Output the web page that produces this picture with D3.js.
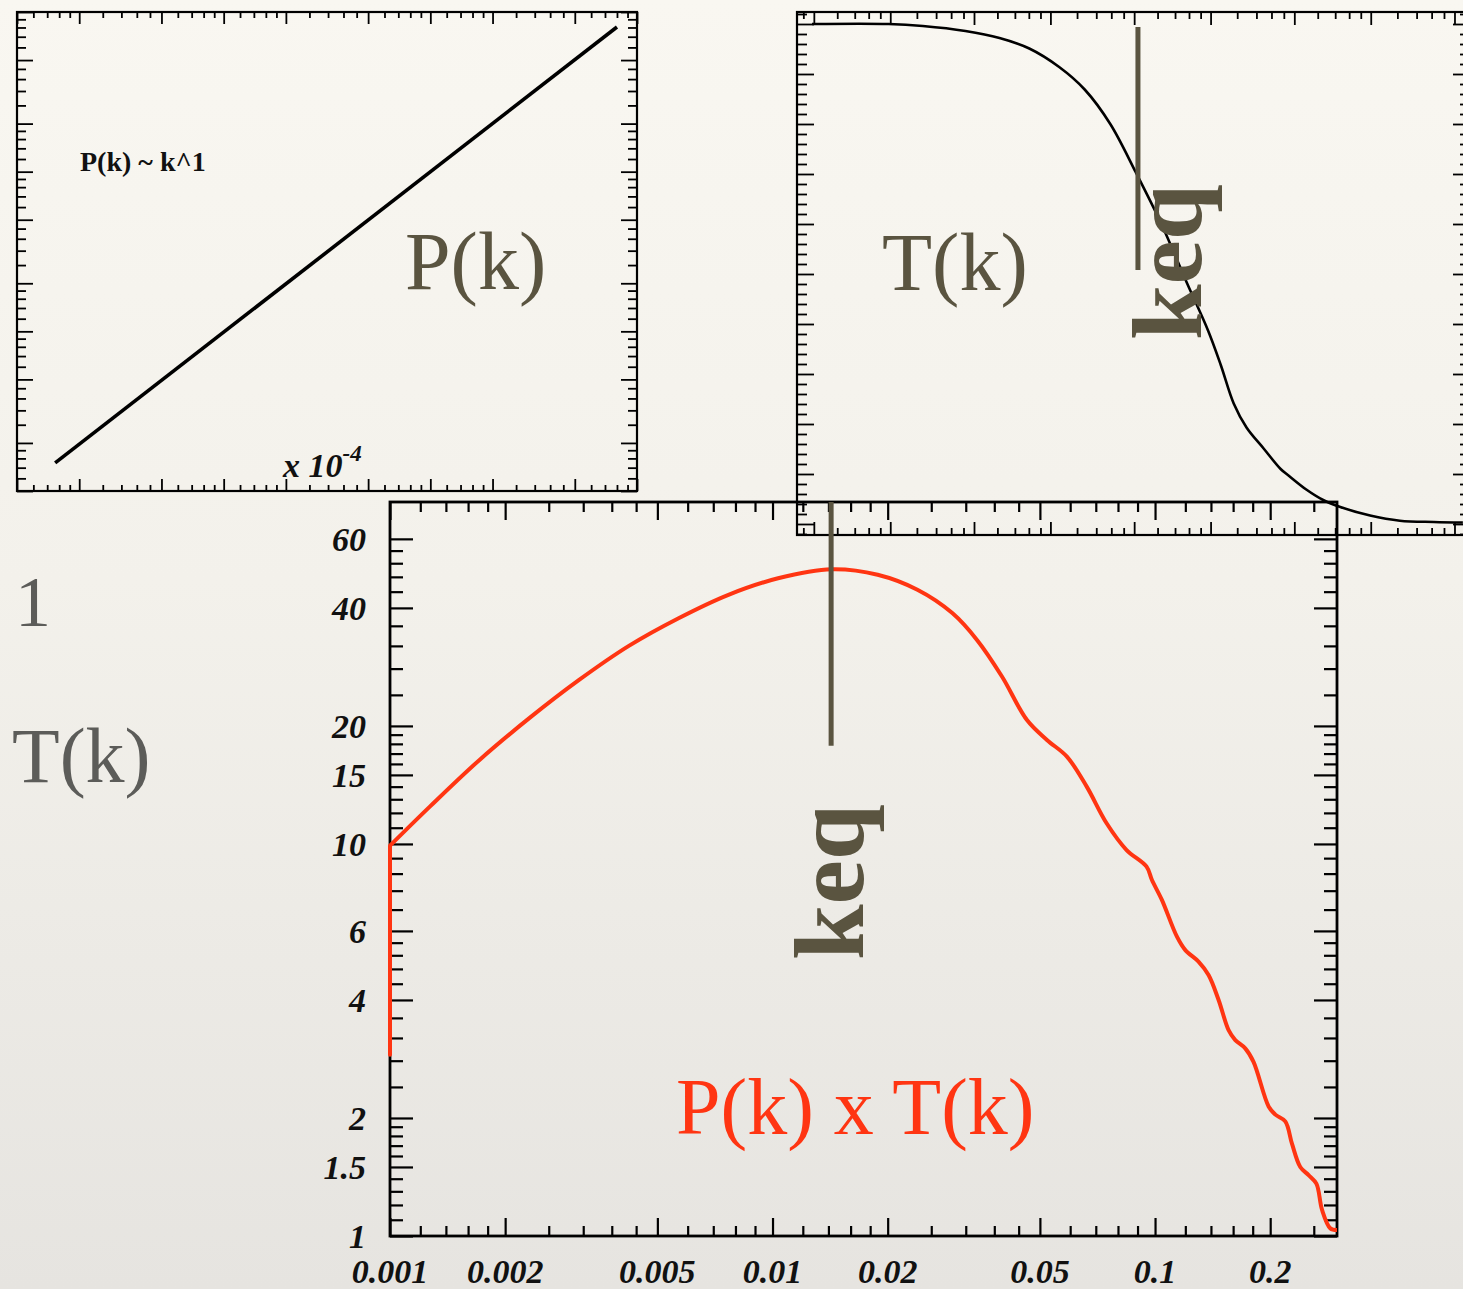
<!DOCTYPE html>
<html><head><meta charset="utf-8">
<script src="https://cdn.jsdelivr.net/npm/d3@7"></script>
<style>html,body{margin:0;padding:0;background:#f0eee9;} svg{display:block;}</style>
</head><body>
<script>
// ---------- DATA ----------
// top-left panel: P(k) ~ k^1
const pkK = [1.53e-4, 0.08];
const pkP = [1.5, 805];
const pkXMajors = [1e-4, 2e-4, 5e-4, 1e-3, 2e-3, 5e-3, 1e-2, 2e-2, 5e-2, 1e-1];
const pkYMajors = [1, 2, 5, 10, 20, 50, 100, 200, 500, 1000];

// top-right panel: transfer function T(k)
const tkK = [9.74e-5, 2.93e-4, 4.79e-4, 8.84e-4, 1.443e-3, 2.214e-3, 3.403e-3, 4.909e-3, 7.094e-3, 0.01025, 0.01479, 0.02136, 0.02901, 0.03482, 0.04184, 0.05029, 0.06432, 0.08214, 0.0928, 0.1187, 0.1515, 0.1937, 0.2973, 0.4562, 0.7435, 1.128];
const tkT = [1.0, 1.0, 0.996, 0.986, 0.972, 0.951, 0.914, 0.869, 0.800, 0.703, 0.600, 0.482, 0.386, 0.317, 0.241, 0.193, 0.151, 0.110, 0.096, 0.069, 0.048, 0.034, 0.017, 0.0066, 0.004, 0.003];
const tkXMajors = [3e-5, 1e-4, 3e-4, 1e-3, 3e-3, 1e-2, 3e-2, 0.1, 0.3, 1, 3];
const tkYMajors = [-0.1, 0, 0.1, 0.2, 0.3, 0.4, 0.5, 0.6, 0.7, 0.8, 0.9, 1.0, 1.1];
const keqTop = 0.01056, keqTopSpan = [0.994, 0.508];

// bottom panel: P(k) x T(k)
const ptK = [0.001, 0.001, 0.001271, 0.001714, 0.002313, 0.003121, 0.004211, 0.005681, 0.007669, 0.01034, 0.01429, 0.01883, 0.02392, 0.02951, 0.03428, 0.03983, 0.04626, 0.05216, 0.05883, 0.06628, 0.07471, 0.08425, 0.09502, 0.09815, 0.1042, 0.1141, 0.1200, 0.1299, 0.1380, 0.1466, 0.1557, 0.1621, 0.1721, 0.1809, 0.1981, 0.2063, 0.2190, 0.2280, 0.2397, 0.2520, 0.2641, 0.2733, 0.2872, 0.2990];
const ptV = [2.9, 9.9, 12.45, 16.38, 20.93, 26.2, 32.0, 37.65, 43.2, 47.6, 50.2, 48.6, 44.5, 38.8, 33.1, 26.7, 20.7, 18.42, 16.70, 14.0, 11.29, 9.65, 8.75, 8.09, 7.20, 5.80, 5.36, 5.01, 4.63, 4.00, 3.35, 3.16, 3.01, 2.78, 2.14, 2.04, 1.96, 1.72, 1.50, 1.43, 1.36, 1.165, 1.046, 1.036];
const xTickValues = [0.001, 0.002, 0.005, 0.01, 0.02, 0.05, 0.1, 0.2, 0.5];
const xTickLabels = ["0.001", "0.002", "0.005", "0.01", "0.02", "0.05", "0.1", "0.2", ""];
const yTickValues = [1, 1.5, 2, 4, 6, 10, 15, 20, 40, 60];
const yTickLabels = ["1", "1.5", "2", "4", "6", "10", "15", "20", "40", "60"];
const keqBottom = 0.01423, keqBottomSpan = [74.5, 17.8];

// ---------- LAYOUT ----------
const W = 1463, H = 1289;
const OLIVE = "#5a5440", GRAY = "#5c5c59", RED = "#ff3512";
const svg = d3.select("body").append("svg").attr("width", W).attr("height", H)
  .style("font-family", "'Liberation Serif', 'Times New Roman', serif");
const defs = svg.append("defs");
const grad = defs.append("linearGradient").attr("id", "bg").attr("x1", 0).attr("y1", 0).attr("x2", 0).attr("y2", 1);
grad.append("stop").attr("offset", "0%").attr("stop-color", "#f9f7f1");
grad.append("stop").attr("offset", "45%").attr("stop-color", "#f3f1eb");
grad.append("stop").attr("offset", "100%").attr("stop-color", "#e6e4e0");
svg.append("rect").attr("width", W).attr("height", H).attr("fill", "url(#bg)");

function minors(majors, domain) {
  const out = [];
  const lo = Math.min(...domain), hi = Math.max(...domain);
  for (let i = 0; i < majors.length - 1; i++) {
    const a = majors[i], b = majors[i + 1];
    for (let j = 1; j < 5; j++) {
      const v = a + (b - a) * j / 5;
      if (v > lo && v < hi) out.push(v);
    }
  }
  return out;
}
function inDom(vals, domain) {
  const lo = Math.min(...domain), hi = Math.max(...domain);
  return vals.filter(v => v >= lo - 1e-12 && v <= hi + 1e-12);
}

function frame(g, x, y, o) {
  const [x0, x1] = x.range(), [yb, yt] = y.range();
  const xMaj = inDom(o.xMaj, x.domain()), xMin = minors(o.xMaj, x.domain());
  const yMaj = inDom(o.yMaj, y.domain()), yMin = minors(o.yMaj, y.domain());
  const add = (axis, tx, ty) => g.append("g").attr("transform", `translate(${tx},${ty})`).call(axis)
    .call(s => { s.select(".domain").remove(); s.selectAll("text").remove();
      s.selectAll("line").attr("stroke", "#000").attr("stroke-width", o.tw); });
  add(d3.axisTop(x).tickValues(xMaj).tickSize(o.xMajLen).tickFormat(""), 0, yb);
  add(d3.axisTop(x).tickValues(xMin).tickSize(o.xMinLen).tickFormat(""), 0, yb);
  add(d3.axisBottom(x).tickValues(xMaj).tickSize(o.xMajLen).tickFormat(""), 0, yt);
  add(d3.axisBottom(x).tickValues(xMin).tickSize(o.xMinLen).tickFormat(""), 0, yt);
  add(d3.axisRight(y).tickValues(yMaj).tickSize(o.yMajLen).tickFormat(""), x0, 0);
  add(d3.axisRight(y).tickValues(yMin).tickSize(o.yMinLen).tickFormat(""), x0, 0);
  add(d3.axisLeft(y).tickValues(yMaj).tickSize(o.yMajLen).tickFormat(""), x1, 0);
  add(d3.axisLeft(y).tickValues(yMin).tickSize(o.yMinLen).tickFormat(""), x1, 0);
  g.append("rect").attr("x", x0).attr("y", yt).attr("width", x1 - x0).attr("height", yb - yt)
    .attr("fill", "none").attr("stroke", "#000").attr("stroke-width", o.sw);
}

// ---------- TOP-LEFT PANEL ----------
const xA = d3.scaleLog().domain([1e-4, 1e-1]).range([17, 637]);
const yA = d3.scaleLog().domain([1, 1000]).range([491, 12]);
const gA = svg.append("g");
frame(gA, xA, yA, { xMaj: pkXMajors, yMaj: pkYMajors, xMajLen: 12, xMinLen: 6, yMajLen: 16, yMinLen: 9, sw: 2.2, tw: 1.8 });
gA.append("path").datum(pkK.map((k, i) => [k, pkP[i]]))
  .attr("d", d3.line().x(d => xA(d[0])).y(d => yA(d[1])))
  .attr("fill", "none").attr("stroke", "#000").attr("stroke-width", 3.6);
gA.append("text").attr("x", 80).attr("y", 171).attr("font-weight", "bold").attr("font-size", 28)
  .attr("fill", "#111").text("P(k) ~ k^1");
gA.append("text").attr("x", 405).attr("y", 289).attr("font-size", 82).attr("fill", OLIVE).text("P(k)");
const xl = gA.append("text").attr("x", 283).attr("y", 477).attr("font-weight", "bold").attr("font-style", "italic")
  .attr("font-size", 34).attr("fill", "#111");
xl.append("tspan").text("x 10");
xl.append("tspan").attr("font-size", 23).attr("dy", -16).text("-4");

// ---------- TOP-RIGHT PANEL ----------
const xB = d3.scaleLog().domain([7.85e-5, 1.25]).range([797, 1470]);
const yB = d3.scaleLinear().domain([-0.022, 1.024]).range([535, 12]);
const gB = svg.append("g");
frame(gB, xB, yB, { xMaj: tkXMajors, yMaj: tkYMajors, xMajLen: 13, xMinLen: 7, yMajLen: 17, yMinLen: 10, sw: 2.2, tw: 1.8 });
gB.append("path").datum(tkK.map((k, i) => [k, tkT[i]]))
  .attr("d", d3.line().curve(d3.curveCatmullRom.alpha(0.5)).x(d => xB(d[0])).y(d => yB(d[1])))
  .attr("fill", "none").attr("stroke", "#000").attr("stroke-width", 2.6);
gB.append("text").attr("x", 882).attr("y", 290).attr("font-size", 82).attr("fill", OLIVE).text("T(k)");
gB.append("line").attr("x1", xB(keqTop)).attr("x2", xB(keqTop))
  .attr("y1", yB(keqTopSpan[0])).attr("y2", yB(keqTopSpan[1]))
  .attr("stroke", OLIVE).attr("stroke-width", 5);
gB.append("text").attr("transform", "translate(1201,340) rotate(-90)")
  .attr("font-weight", "bold").attr("font-size", 100).attr("fill", OLIVE).text("keq");

// ---------- LEFT SLIDE TEXT ----------
svg.append("text").attr("x", 15).attr("y", 626).attr("font-size", 72).attr("fill", GRAY).text("1");
svg.append("text").attr("x", 12).attr("y", 782).attr("font-size", 78).attr("fill", GRAY).text("T(k)");

// ---------- BOTTOM PANEL ----------
const xC = d3.scaleLog().domain([0.001, 0.299]).range([390, 1337]);
const yC = d3.scaleLog().domain([1, 74.5]).range([1236, 502]);
const gC = svg.append("g");
frame(gC, xC, yC, { xMaj: xTickValues, yMaj: yTickValues, xMajLen: 18, xMinLen: 10, yMajLen: 23, yMinLen: 13, sw: 2.8, tw: 2.2 });
gC.append("g").selectAll("text").data(xTickValues.filter(v => v <= 0.299)).join("text")
  .attr("x", d => xC(d)).attr("y", 1283).attr("text-anchor", "middle")
  .attr("font-weight", "bold").attr("font-style", "italic").attr("font-size", 34).attr("fill", "#111")
  .text((d, i) => xTickLabels[i]);
gC.append("g").selectAll("text").data(yTickValues).join("text")
  .attr("x", 366).attr("y", d => yC(d) + 12).attr("text-anchor", "end")
  .attr("font-weight", "bold").attr("font-style", "italic").attr("font-size", 34).attr("fill", "#111")
  .text((d, i) => yTickLabels[i]);
const ptPts = ptK.map((k, i) => [k, ptV[i]]);
const lineC = d3.line().x(d => xC(d[0])).y(d => yC(d[1]));
// vertical start segment (straight), then the smooth curve
gC.append("path").datum(ptPts.slice(0, 2))
  .attr("d", lineC)
  .attr("fill", "none").attr("stroke", RED).attr("stroke-width", 4).attr("stroke-linecap", "round");
gC.append("path").datum(ptPts.slice(1))
  .attr("d", lineC.curve(d3.curveCatmullRom.alpha(0.5)))
  .attr("fill", "none").attr("stroke", RED).attr("stroke-width", 4).attr("stroke-linejoin", "round");
gC.append("line").attr("x1", xC(keqBottom)).attr("x2", xC(keqBottom))
  .attr("y1", yC(keqBottomSpan[0])).attr("y2", yC(keqBottomSpan[1]))
  .attr("stroke", OLIVE).attr("stroke-width", 5);
gC.append("text").attr("transform", "translate(863,960) rotate(-90)")
  .attr("font-weight", "bold").attr("font-size", 100).attr("fill", OLIVE).text("keq");
gC.append("text").attr("x", 676).attr("y", 1134).attr("font-size", 80).attr("fill", RED).text("P(k) x T(k)");
</script>
</body></html>
